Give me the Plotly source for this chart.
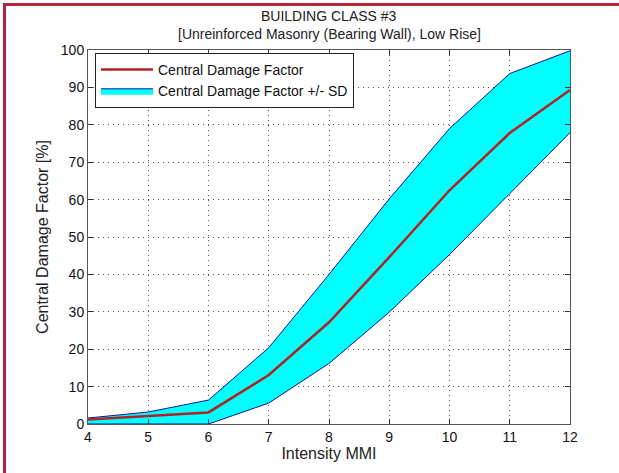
import plotly.graph_objects as go

mmi = [4, 5, 6, 7, 8, 9, 10, 11, 12]
central = [1.2, 2.1, 3.1, 13.1, 27.2, 44.6, 62.5, 77.8, 89.3]
upper = [1.6, 3.2, 6.4, 20.4, 40.0, 60.2, 79.0, 93.7, 99.8]
lower = [0.0, 0.0, 0.0, 5.6, 16.2, 29.9, 45.3, 61.6, 77.9]

x_ticks = [4, 5, 6, 7, 8, 9, 10, 11, 12]
y_ticks = [0, 10, 20, 30, 40, 50, 60, 70, 80, 90, 100]

title_lines = ["BUILDING CLASS #3", "[Unreinforced Masonry (Bearing Wall), Low Rise]"]

FONT = "Liberation Sans, Arial, sans-serif"

fig = go.Figure()
fig.add_trace(go.Scatter(
    x=mmi, y=lower, mode="lines", line=dict(color="#1010A0", width=1),
    showlegend=False, hoverinfo="skip"))
fig.add_trace(go.Scatter(
    x=mmi, y=upper, mode="lines", line=dict(color="#1010A0", width=1),
    fill="tonexty", fillcolor="#00FFFF",
    name="Central Damage Factor +/- SD", legendrank=2))
fig.add_trace(go.Scatter(
    x=mmi, y=central, mode="lines", line=dict(color="#B22222", width=2.5),
    name="Central Damage Factor", legendrank=1))

L, R, T, B = 88, 570, 50, 424
W, H = 619, 473
pw, ph = R - L, B - T

def px(x):
    return (x - L) / pw

def py(y):
    return (B - y) / ph

border = "#B3263A"
fig.add_shape(type="line", xref="paper", yref="paper",
              x0=px(3), x1=px(W + 5), y0=py(4.5), y1=py(4.5),
              line=dict(color=border, width=3))
fig.add_shape(type="line", xref="paper", yref="paper",
              x0=px(4.5), x1=px(4.5), y0=py(3), y1=py(H + 5),
              line=dict(color=border, width=3))

for txt, yc in zip(title_lines, [16, 34]):
    fig.add_annotation(text=txt, xref="paper", yref="paper",
                       x=0.5, y=py(yc), xanchor="center", yanchor="middle",
                       showarrow=False,
                       font=dict(family=FONT, size=14, color="#222222"))

axis_common = dict(
    showline=True, linecolor="#555555", linewidth=1, mirror="ticks",
    ticks="inside", ticklen=5, tickcolor="#333333",
    showgrid=True, gridcolor="#555555", griddash="1px,4px", gridwidth=1,
    zeroline=False, tickfont=dict(family=FONT, size=14, color="#111111"),
)

fig.update_xaxes(range=[4, 12], tickvals=x_ticks,
                 title=dict(text="Intensity MMI", font=dict(family=FONT, size=16, color="#222222"), standoff=4),
                 **axis_common)
fig.update_yaxes(range=[0, 100], tickvals=y_ticks,
                 title=dict(text="Central Damage Factor [%]", font=dict(family=FONT, size=16, color="#222222"), standoff=8),
                 **axis_common)

fig.update_layout(
    width=W, height=H,
    margin=dict(l=L, r=W - R, t=T, b=H - B),
    paper_bgcolor="white", plot_bgcolor="white",
    font=dict(family=FONT, color="#111111"),
    legend=dict(x=px(95), y=py(53), xanchor="left", yanchor="top",
                bgcolor="white", bordercolor="#222222", borderwidth=1,
                font=dict(family=FONT, size=14, color="#111111"),
                itemwidth=52, tracegroupgap=0, traceorder="normal"),
    showlegend=True,
)

fig.write_html("out.html", config={"displayModeBar": False},
               post_script="document.body.style.margin='0px';document.body.style.overflow='hidden';")
